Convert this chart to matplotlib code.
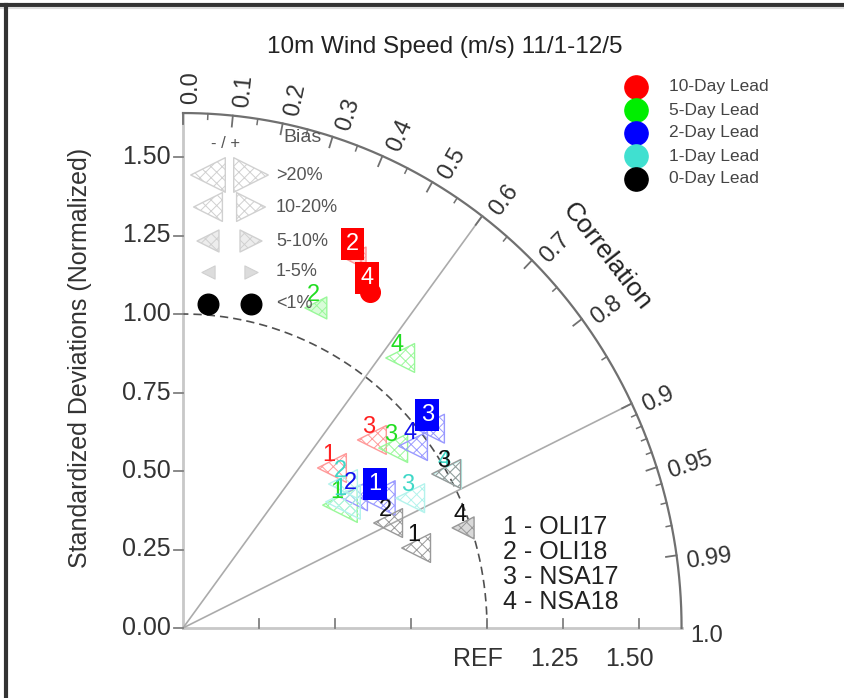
import numpy as np
import matplotlib
matplotlib.use('Agg')
import matplotlib.pyplot as plt
from matplotlib.colors import to_rgb

plt.rcParams['font.family'] = ['Liberation Sans', 'DejaVu Sans']
plt.rcParams['hatch.linewidth'] = 0.7

# ---- data ----
leads = ['10-Day Lead', '5-Day Lead', '2-Day Lead', '1-Day Lead', '0-Day Lead']
lead_colors = ['#ff0000', '#00ee00', '#0000ff', '#40e0d0', '#000000']
text_colors = ['#ff2020', '#22dd22', '#1010ee', '#40d8c8', '#111111']
models = ['OLI17', 'OLI18', 'NSA17', 'NSA18']
bias_labels = ['<1%', '1-5%', '5-10%', '10-20%', '>20%']

# normalized standard deviation, one row per lead, one column per model (1-4)
std_dev = [
    [0.707, 1.307, 0.863, 1.234],
    [0.648, 1.109, 0.898, 1.118],
    [0.763, 0.699, 1.031, 0.953],
    [0.662, 0.698, 0.854, 0.997],
    [0.808, 0.753, 0.995, 0.975],
]
correlation = [
    [0.693, 0.433, 0.720, 0.498],
    [0.797, 0.394, 0.770, 0.639],
    [0.840, 0.800, 0.788, 0.794],
    [0.795, 0.754, 0.875, 0.871],
    [0.949, 0.896, 0.870, 0.945],
]
# bias class index into bias_labels, and sign (-1 under, +1 over)
bias_class = [
    [3, 2, 3, 0],
    [4, 2, 3, 3],
    [4, 3, 3, 3],
    [4, 3, 3, 3],
    [3, 3, 3, 2],
]
bias_sign = [
    [-1, -1, -1, -1],
    [-1, -1, -1, -1],
    [-1, -1, -1, -1],
    [-1, -1, -1, -1],
    [-1, -1, -1, -1],
]
boxed = [
    [False, True, False, True],
    [False, False, False, False],
    [True, False, True, False],
    [False, False, False, False],
    [False, False, False, False],
]

corr_major = [0.0, 0.1, 0.2, 0.3, 0.4, 0.5, 0.6, 0.7, 0.8, 0.9, 0.95, 0.99]
corr_minor = [0.05, 0.15, 0.25, 0.35, 0.45, 0.55, 0.65, 0.75, 0.85,
              0.91, 0.92, 0.93, 0.94, 0.96, 0.97, 0.98]
corr_lines = [0.6, 0.9]
std_ticks = [0.0, 0.25, 0.5, 0.75, 1.0, 1.25, 1.5]
x_labels = {1.0: 'REF', 1.25: '1.25', 1.5: '1.50'}
RMAX = 1.64

W, H = 845, 698
fig = plt.figure(figsize=(W / 100, H / 100), dpi=100)
LIM = 1.75
ax = fig.add_axes([183 / W, 70 / H, LIM * 304 / W, LIM * 314 / H])
ax.set_xlim(0, LIM)
ax.set_ylim(0, LIM)
ax.axis('off')

# overlay in image pixels for legends / frame
ov = fig.add_axes([0, 0, 1, 1])
ov.set_xlim(0, W)
ov.set_ylim(H, 0)
ov.axis('off')


def tint(c, a):
    r = np.array(to_rgb(c))
    return tuple(1 - a * (1 - r))


def bias_marker(axis, x, y, cls, sign, color, dot=230):
    if cls == 0:
        axis.scatter([x], [y], s=dot, marker='o', color=color, zorder=3, clip_on=False)
        return
    m = '<' if sign < 0 else '>'
    size = [0, 90, 250, 430, 620][cls]
    edge = tint(color, 0.4)
    if cls == 1:
        axis.scatter([x], [y], s=size, marker=m, facecolor=tint(color, 0.3),
                     edgecolor=edge, linewidth=0.8, zorder=3, clip_on=False)
    else:
        face = tint(color, 0.15) if cls == 2 else 'none'
        axis.scatter([x], [y], s=size, marker=m, facecolor=face, edgecolor=edge,
                     hatch='xxx', linewidth=1.0, zorder=3, clip_on=False)


th = np.linspace(0, np.pi / 2, 400)
# std-dev axes
ax.plot([0, 0], [0, RMAX], color='#c8c8c8', lw=2, clip_on=False)
ax.plot([0, RMAX], [0, 0], color='#c8c8c8', lw=2, clip_on=False)
# outer arc and REF arc
ax.plot(RMAX * np.cos(th), RMAX * np.sin(th), color='#707070', lw=1.6, clip_on=False)
ax.plot(np.cos(th), np.sin(th), color='#505050', lw=1.2, ls=(0, (5, 3)), clip_on=False)
for c in corr_lines:
    a = np.arccos(c)
    ax.plot([0, RMAX * np.cos(a)], [0, RMAX * np.sin(a)], color='#ababab', lw=1.2, clip_on=False)

# std-dev ticks
for v in std_ticks:
    ax.plot([-0.028, 0], [v, v], color='#808080', lw=1.3, clip_on=False)
    ax.text(-0.04, v, f'{v:.2f}', ha='right', va='center', fontsize=18, color='#333333')
for v in std_ticks[1:]:
    ax.plot([v, v], [0, 0.028], color='#808080', lw=1.3, clip_on=False)
for v, lab in x_labels.items():
    ax.text(v - 0.03, -0.1, lab, ha='center', va='center', fontsize=18, color='#333333')

# correlation ticks and labels
for c in corr_major:
    a = np.arccos(c)
    ax.plot([RMAX * np.cos(a), (RMAX - 0.035) * np.cos(a)],
            [RMAX * np.sin(a), (RMAX - 0.035) * np.sin(a)], color='#707070', lw=1.3, clip_on=False)
for c in corr_minor:
    a = np.arccos(c)
    ax.plot([RMAX * np.cos(a), (RMAX - 0.018) * np.cos(a)],
            [RMAX * np.sin(a), (RMAX - 0.018) * np.sin(a)], color='#707070', lw=1.1, clip_on=False)
for c in corr_major + [1.0]:
    a = np.arccos(c)
    pa = a - 0.016
    lab = f'{c:.2f}' if c in (0.95, 0.99) else f'{c:.1f}'
    ax.text((RMAX + 0.03) * np.cos(pa), (RMAX + 0.03) * np.sin(pa), lab,
            rotation=np.degrees(a), rotation_mode='anchor', ha='left', va='center',
            fontsize=17, color='#333333')
ca = np.radians(40.3)
ax.text(1.83 * np.cos(ca), 1.83 * np.sin(ca), 'Correlation', rotation=-52,
        ha='center', va='center', fontsize=19, color='#222222')

# data points
for i in range(len(leads)):
    for j in range(len(models)):
        s = std_dev[i][j]
        r = correlation[i][j]
        x, y = s * r, s * np.sqrt(1 - r ** 2)
        bias_marker(ax, x, y, bias_class[i][j], bias_sign[i][j], lead_colors[i], dot=200)
for i in range(len(leads)):
    for j in range(len(models)):
        s = std_dev[i][j]
        r = correlation[i][j]
        x, y = s * r, s * np.sqrt(1 - r ** 2)
        if boxed[i][j]:
            ax.annotate(str(j + 1), (x, y), xytext=(-2, 10), textcoords='offset points',
                        ha='center', va='center', fontsize=17, color='white', zorder=6,
                        bbox=dict(boxstyle='square,pad=0.22', fc=lead_colors[i], ec='none'))
        else:
            ax.annotate(str(j + 1), (x, y), xytext=(-2, 9.5), textcoords='offset points',
                        ha='center', va='center', fontsize=17, color=text_colors[i], zorder=5)

# lead legend
for k, (lab, col) in enumerate(zip(leads, lead_colors)):
    yy = 87 + 23 * k
    ov.scatter([636], [yy], s=280, color=col, zorder=3)
    ov.text(669, yy, lab, ha='left', va='center', fontsize=12.5, color='#444444')

# bias legend
ov.text(303, 138, 'Bias', ha='center', va='center', fontsize=14, color='#555555')
ov.text(226, 143, '- / +', ha='center', va='center', fontsize=12, color='#555555')
rows_y = [175, 207, 241, 272, 304]
for cls, yy in zip([4, 3, 2, 1, 0], rows_y):
    col = '#000000' if cls == 0 else '#8a8a8a'
    bias_marker(ov, 208, yy, cls, -1, col, dot=220)
    bias_marker(ov, 251, yy, cls, 1, col, dot=220)
    ov.text(276, yy, bias_labels[cls], ha='left', va='center', fontsize=13, color='#555555')

# model key
for j, m in enumerate(models):
    ov.text(503, 527 + 25 * j, f'{j + 1} - {m}', ha='left', va='center', fontsize=18, color='#222222')

# title, y label, frame
ov.text(445, 47, '10m Wind Speed (m/s) 11/1-12/5', ha='center', va='center', fontsize=17.5, color='#222222')
ov.text(80, 358, 'Standardized Deviations (Normalized)', rotation=90, ha='center', va='center',
        fontsize=18, color='#333333')
ov.plot([0, W], [5, 5], color='#333333', lw=3)
ov.plot([0, W], [8, 8], color='#dddddd', lw=1.5)
ov.plot([6, 6], [5, H], color='#333333', lw=3)

fig.savefig('out.png', dpi=100)
